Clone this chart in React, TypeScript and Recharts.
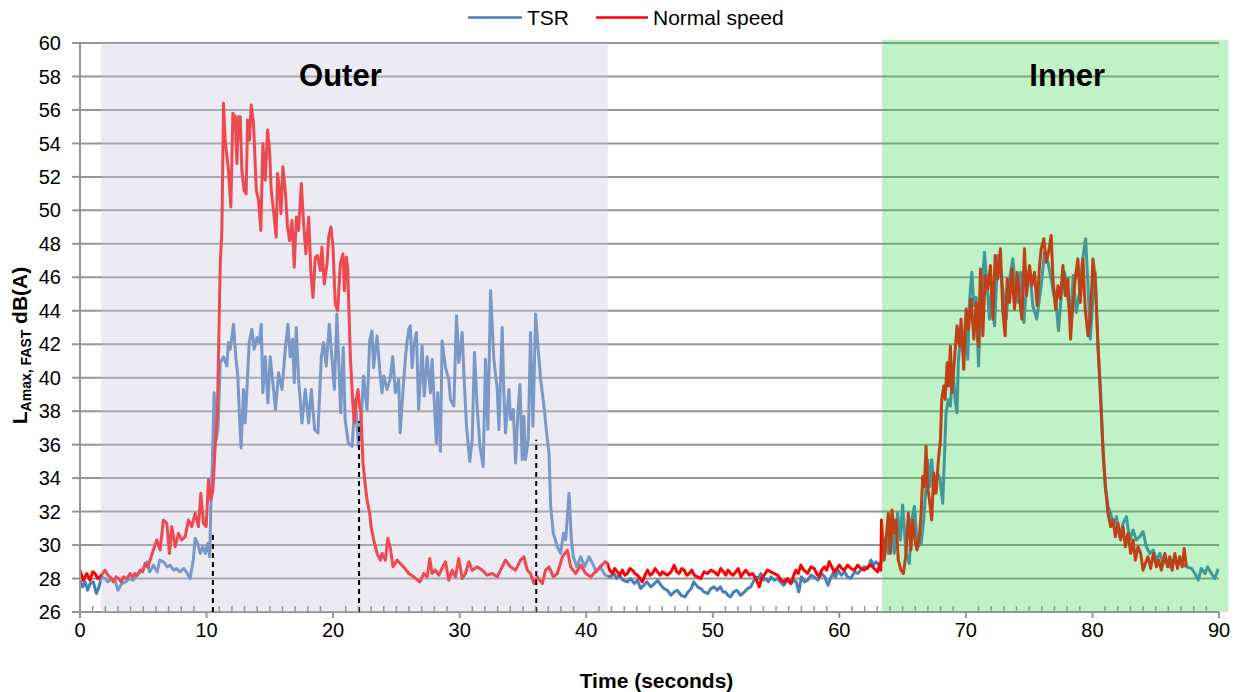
import { CartesianGrid, Line, LineChart, ReferenceArea, ReferenceLine, XAxis, YAxis } from 'recharts';

type Sample = [number, number]; // [time (s), LAmax,FAST dB(A)]

// TSR pass
const tsrRise: Sample[] = [
  [0, 27.9], [0.2, 27.5], [0.4, 27.8], [0.6, 27.3], [0.8, 27.7], [1.05, 27.8], [1.3, 27.1], [1.5, 27.5],
  [1.7, 28.1], [2.0, 28.0], [2.2, 27.8], [2.5, 28.0], [2.8, 27.8], [3.0, 27.3], [3.3, 27.7], [3.6, 27.8],
  [3.9, 28.0], [4.2, 27.9], [4.6, 28.3], [5.0, 28.6], [5.3, 29.0], [5.5, 28.4], [5.8, 28.8], [6.1, 28.4],
  [6.3, 29.1], [6.6, 29.0], [6.9, 28.7], [7.1, 28.8], [7.4, 28.5], [7.6, 28.6], [7.9, 28.4], [8.2, 28.6],
  [8.4, 28.4], [8.7, 28.0], [8.95, 29.1], [9.1, 30.4], [9.3, 30.1], [9.5, 29.5], [9.7, 29.9], [9.9, 29.5],
  [10.1, 30.1], [10.25, 29.3], [10.35, 32.7], [10.45, 34.7], [10.6, 39.1], [10.75, 36.3], [10.9, 36.9],
  [11.08, 40.9],
];
const tsrOuter: Sample[] = [
  [11.34, 41.25], [11.6, 40.7], [11.73, 42.1], [11.87, 41.7], [12.0, 42.4], [12.13, 43.2], [12.31, 41.25],
  [12.47, 40.1], [12.6, 37.7], [12.73, 35.8], [12.92, 39.3], [13.05, 37.3], [13.19, 39.3], [13.37, 42.1],
  [13.58, 42.9], [13.76, 41.7], [13.98, 42.4], [14.16, 42.1], [14.32, 43.2], [14.45, 39.1], [14.64, 41.25],
  [14.85, 38.5], [15.03, 41.25], [15.24, 39.7], [15.45, 38.1], [15.69, 40.3], [15.96, 39.3], [16.22, 41.7],
  [16.43, 43.2], [16.61, 41.25], [16.8, 42.3], [16.93, 39.7], [17.09, 43.0], [17.27, 39.9], [17.54, 37.3],
  [17.8, 39.3], [18.07, 37.3], [18.28, 39.3], [18.54, 36.9], [18.8, 36.7], [19.07, 41.25], [19.25, 42.1],
  [19.46, 40.7], [19.7, 43.2], [19.92, 41.0], [20.1, 39.3], [20.3, 43.8], [20.5, 39.9], [20.6, 37.9],
  [20.8, 41.8], [20.95, 37.5], [21.2, 36.1], [21.5, 35.9], [21.75, 38.7], [22.0, 35.9], [22.28, 38.3],
  [22.4, 40.1], [22.68, 38.1], [22.89, 42.2], [23.07, 42.8], [23.2, 40.6], [23.47, 42.5], [23.73, 40.1],
  [23.86, 39.1], [24.0, 40.1], [24.26, 39.3], [24.5, 39.9], [24.71, 41.25], [24.92, 39.1], [25.18, 39.9],
  [25.3, 36.7], [25.58, 39.9], [25.8, 41.9], [25.98, 42.9], [26.1, 43.1], [26.24, 40.6], [26.37, 41.9],
  [26.58, 42.7], [26.76, 38.1], [27.03, 41.9], [27.2, 38.9], [27.43, 41.25], [27.69, 39.1], [27.82, 41.1],
  [28.16, 36.1], [28.27, 39.1], [28.48, 35.6], [28.61, 42.2], [28.88, 40.6], [29.14, 39.9], [29.27, 38.7],
  [29.54, 38.3], [29.75, 43.7], [29.93, 40.9], [30.2, 42.7], [30.33, 40.3], [30.54, 37.1], [30.8, 35.0],
  [30.99, 36.3], [31.17, 41.5], [31.38, 38.3], [31.6, 35.9], [31.86, 34.7], [32.04, 41.1], [32.23, 36.9],
  [32.44, 45.2], [32.7, 41.1], [32.97, 39.3], [33.1, 36.9], [33.36, 43.0], [33.5, 38.9], [33.62, 36.7],
  [33.89, 39.3], [34.02, 37.5], [34.23, 38.1], [34.42, 34.9], [34.6, 37.9], [34.76, 39.6], [34.94, 35.1],
  [35.08, 37.7], [35.2, 35.1], [35.42, 36.3], [35.6, 42.7], [35.79, 37.1], [36.0, 43.8], [36.18, 41.9],
  [36.4, 39.9], [36.66, 38.3], [36.87, 36.7], [37.06, 35.5], [37.19, 32.3], [37.4, 30.7], [37.72, 29.9],
  [37.98, 29.5], [38.2, 30.7], [38.38, 30.3], [38.64, 33.1], [38.83, 30.3], [38.98, 29.3], [39.25, 28.7],
  [39.56, 29.3], [39.88, 28.7], [40.22, 29.3], [40.5, 28.9], [40.8, 28.4], [41.1, 28.7], [41.5, 28.2],
];
const tsrQuiet: Sample[] = [
  [41.9, 28.1], [42.2, 28.3], [42.4, 28.0], [42.6, 28.2], [42.9, 27.9], [43.25, 27.8], [43.5, 28.0],
  [43.8, 27.7], [44.05, 27.9], [44.3, 27.4], [44.55, 27.6], [44.8, 27.8], [45.1, 27.5], [45.4, 27.7],
  [45.65, 27.9], [45.9, 27.6], [46.15, 27.4], [46.4, 27.3], [46.7, 27.0], [46.95, 27.2], [47.2, 27.3],
  [47.5, 27.0], [47.8, 26.9], [48.05, 27.2], [48.3, 27.4], [48.5, 27.8], [48.8, 27.5], [49.05, 27.4],
  [49.3, 27.2], [49.6, 27.1], [49.85, 27.4], [50.1, 27.5], [50.35, 27.3], [50.6, 27.5], [50.8, 27.2],
  [51.0, 27.2], [51.2, 27.0], [51.4, 26.9], [51.65, 27.2], [51.9, 27.3], [52.2, 27.0], [52.5, 27.2],
  [52.75, 27.4], [53.0, 27.5], [53.2, 27.8], [53.4, 28.1], [53.6, 28.0], [53.8, 28.3], [54.0, 27.9],
  [54.2, 28.0], [54.4, 27.8], [54.6, 28.1], [54.85, 27.9], [55.1, 28.0], [55.35, 27.8], [55.6, 27.6],
  [55.9, 27.9], [56.2, 27.7], [56.4, 27.9], [56.6, 27.8], [56.8, 27.2], [57.0, 28.1], [57.25, 27.8],
  [57.5, 27.9], [57.75, 28.2], [58.0, 28.1], [58.3, 27.9], [58.6, 28.3], [58.85, 28.1], [59.1, 27.6],
  [59.3, 28.0], [59.5, 28.3], [59.7, 28.1], [59.9, 28.5], [60.15, 28.2], [60.4, 28.4], [60.65, 28.1],
  [60.9, 28.0], [61.2, 28.4], [61.45, 28.3], [61.7, 28.5], [61.97, 28.7], [62.25, 28.6], [62.5, 29.1],
  [62.7, 28.8], [62.9, 29.0], [63.15, 28.8],
];
const tsrInner: Sample[] = [
  [63.42, 29.1], [63.69, 30.5], [63.87, 29.5], [64.08, 31.5], [64.34, 29.5], [64.61, 31.9], [64.82, 30.3],
  [65.0, 32.4], [65.27, 29.5], [65.53, 28.9], [65.72, 31.5], [65.93, 32.3], [66.19, 29.9], [66.46, 30.1],
  [66.67, 31.5], [66.85, 33.5], [66.98, 35.1], [67.17, 33.5], [67.3, 35.1], [67.51, 33.1], [67.77, 34.3],
  [67.96, 33.9], [68.17, 32.5], [68.3, 35.1], [68.43, 37.9], [68.62, 38.7], [68.78, 38.3], [68.96, 40.7],
  [69.15, 38.7], [69.3, 37.9], [69.41, 41.1], [69.62, 42.5], [69.83, 41.9], [69.97, 43.5], [70.15, 41.1],
  [70.28, 44.5], [70.47, 46.3], [70.63, 44.3], [70.81, 44.8], [71.0, 40.7], [71.12, 43.5], [71.28, 45.5],
  [71.47, 47.5], [71.68, 45.5], [71.86, 43.5], [72.05, 45.5], [72.26, 43.1], [72.52, 47.3], [72.78, 46.3],
  [73.0, 44.7], [73.18, 43.5], [73.45, 45.9], [73.71, 47.1], [73.9, 45.5], [74.1, 44.5], [74.32, 46.3],
  [74.58, 43.3], [74.79, 45.5], [75.03, 46.5], [75.29, 44.3], [75.6, 43.5], [75.95, 45.5], [76.21, 47.5],
  [76.48, 46.9], [76.74, 45.9], [76.95, 44.9], [77.14, 44.3], [77.32, 42.8], [77.53, 44.9], [77.8, 46.3],
  [78.06, 44.7], [78.27, 43.5], [78.48, 46.1], [78.72, 43.9], [78.98, 45.1], [79.2, 46.9], [79.46, 48.3],
  [79.65, 45.5], [79.83, 42.3], [80.04, 44.7], [80.22, 46.3], [80.43, 41.9], [80.65, 39.1], [80.83, 35.5],
  [81.02, 33.5], [81.23, 32.3], [81.44, 31.9], [81.68, 31.1], [81.89, 31.7], [82.15, 30.5], [82.42, 31.3],
  [82.68, 31.7], [82.95, 30.3], [83.21, 30.9], [83.47, 30.3], [83.74, 30.5], [84.0, 30.8], [84.26, 29.9],
  [84.53, 29.5], [84.8, 29.7], [85.06, 29.1], [85.33, 29.5], [85.6, 28.9], [85.85, 29.1], [86.1, 28.7],
  [86.37, 29.1], [86.64, 28.9], [87.03, 28.9], [87.43, 28.7], [87.83, 28.6], [88.1, 28.3], [88.36, 27.9],
  [88.6, 28.6], [88.9, 28.3], [89.1, 28.7], [89.4, 28.3], [89.66, 28.0], [89.9, 28.5], [90.2, 28.4],
  [90.3, 28.6],
];

// normal speed pass
const normalRise: Sample[] = [
  [0, 28.5], [0.26, 27.9], [0.53, 28.3], [0.79, 27.9], [1.0, 28.4], [1.19, 28.3], [1.4, 28.0], [1.58, 28.1],
  [1.8, 28.3], [1.98, 28.5], [2.2, 28.2], [2.37, 28.1], [2.64, 27.8], [2.85, 28.1], [3.03, 28.0], [3.25, 27.8],
  [3.43, 28.1], [3.7, 28.0], [3.96, 28.3], [4.15, 28.1], [4.35, 28.3], [4.55, 28.2], [4.75, 28.5], [4.95, 28.4],
  [5.14, 28.9], [5.35, 28.7], [5.54, 29.1], [5.8, 29.7], [6.07, 30.3], [6.33, 29.7], [6.59, 31.5], [6.86, 31.3],
  [7.07, 29.5], [7.25, 31.1], [7.52, 29.9], [7.78, 30.7], [8.04, 30.3], [8.31, 30.5], [8.57, 31.5], [8.83, 31.1],
  [9.1, 31.9], [9.36, 31.1], [9.55, 33.1], [9.76, 31.3], [9.97, 31.1], [10.15, 33.9], [10.34, 32.7],
  [10.5, 33.3], [10.68, 35.9], [10.86, 37.9], [11.08, 46.8], [11.21, 48.7], [11.34, 56.4],
];
const normalOuter: Sample[] = [
  [11.47, 54.2], [11.73, 52.4], [11.92, 50.2], [12.08, 55.8], [12.26, 55.6], [12.4, 52.8], [12.52, 55.6],
  [12.66, 55.6], [12.79, 52.4], [12.97, 51.2], [13.13, 51.0], [13.24, 55.4], [13.39, 54.2], [13.53, 56.3],
  [13.71, 55.2], [13.93, 51.2], [14.11, 50.6], [14.29, 48.8], [14.45, 54.0], [14.64, 51.8], [14.82, 54.8],
  [14.98, 53.6], [15.11, 51.2], [15.29, 50.0], [15.5, 48.4], [15.61, 52.2], [15.77, 51.2], [15.88, 49.8],
  [16.03, 52.6], [16.22, 51.2], [16.4, 49.0], [16.56, 48.2], [16.75, 49.4], [16.93, 46.6], [17.09, 49.6],
  [17.27, 48.8], [17.49, 51.6], [17.67, 49.2], [17.85, 47.4], [18.07, 49.6], [18.25, 46.2], [18.41, 44.8],
  [18.59, 47.2], [18.78, 47.3], [18.99, 46.4], [19.12, 47.8], [19.3, 45.6], [19.52, 46.8], [19.65, 48.4],
  [19.83, 49.0], [19.99, 47.8], [20.17, 44.4], [20.36, 44.0], [20.57, 46.8], [20.78, 47.4], [20.89, 45.2],
  [21.05, 47.2], [21.15, 46.6], [21.36, 41.25], [21.57, 38.3], [21.68, 37.3], [21.83, 38.7], [21.97, 39.3],
  [22.1, 38.3], [22.2, 37.9], [22.36, 34.9], [22.55, 33.5], [22.68, 32.7], [22.89, 31.9], [23.0, 31.1],
  [23.21, 30.3], [23.47, 29.5], [23.73, 29.1], [23.87, 29.5], [24.13, 29.1], [24.32, 30.4], [24.5, 29.9],
  [24.74, 28.7], [25.05, 29.1], [25.3, 28.9], [25.58, 28.7], [25.98, 28.3], [26.37, 28.1], [26.85, 27.8],
  [27.16, 28.3], [27.43, 28.1], [27.64, 29.2], [27.82, 28.3], [28.09, 28.5], [28.35, 28.2], [28.61, 28.6],
  [28.88, 29.0], [29.14, 27.9], [29.41, 28.5], [29.67, 28.1], [29.93, 29.2], [30.2, 28.0], [30.46, 28.3],
  [30.73, 29.0], [30.99, 28.5], [31.38, 28.7], [31.78, 28.5], [32.17, 28.2], [32.57, 28.3], [32.97, 28.1],
  [33.23, 28.5], [33.62, 29.1], [34.02, 28.7], [34.42, 28.5], [34.81, 29.1], [35.08, 29.3], [35.34, 28.5],
  [35.6, 28.3], [35.87, 27.7], [36.13, 28.1], [36.53, 27.7], [36.79, 28.5], [37.06, 28.7], [37.4, 28.1],
  [37.72, 28.3], [38.12, 29.3], [38.51, 29.7], [38.77, 28.7], [39.17, 28.3], [39.56, 28.8], [39.96, 28.3],
  [40.35, 28.1], [40.6, 28.3], [41.1, 28.7], [41.5, 29.0],
];
const normalQuiet: Sample[] = [
  [41.67, 28.9], [41.85, 28.5], [42.06, 28.3], [42.25, 28.6], [42.46, 28.4], [42.65, 28.2], [42.86, 28.5],
  [43.05, 28.2], [43.25, 28.3], [43.45, 28.6], [43.65, 28.5], [43.85, 28.3], [44.05, 28.2], [44.25, 28.0],
  [44.44, 27.8], [44.65, 28.2], [44.84, 28.5], [45.05, 28.2], [45.23, 28.3], [45.45, 28.6], [45.63, 28.4],
  [45.85, 28.2], [46.02, 28.4], [46.2, 28.3], [46.42, 28.2], [46.7, 28.4], [46.95, 28.8], [47.15, 28.4],
  [47.34, 28.3], [47.55, 28.6], [47.74, 28.5], [47.95, 28.2], [48.13, 28.3], [48.35, 28.5], [48.53, 28.2],
  [48.8, 28.1], [49.05, 28.0], [49.3, 28.4], [49.58, 28.3], [49.85, 28.5], [50.11, 28.4], [50.4, 28.2],
  [50.63, 28.6], [50.85, 28.4], [51.03, 28.2], [51.2, 28.5], [51.42, 28.3], [51.6, 28.2], [51.82, 28.4],
  [52.0, 28.6], [52.22, 28.1], [52.4, 28.3], [52.61, 28.5], [52.9, 28.2], [53.14, 28.3], [53.4, 28.0],
  [53.67, 27.5], [53.85, 28.0], [54.06, 28.2], [54.3, 28.5], [54.59, 28.4], [54.85, 28.3], [55.12, 28.2],
  [55.4, 27.9], [55.64, 27.8], [55.9, 28.0], [56.17, 27.7], [56.4, 28.2], [56.57, 28.5], [56.75, 28.3],
  [56.96, 28.8], [57.2, 28.5], [57.49, 28.3], [57.75, 28.7], [58.02, 28.6], [58.2, 28.3], [58.41, 28.1],
  [58.6, 28.5], [58.81, 28.7], [59.0, 28.5], [59.2, 29.0], [59.4, 28.7], [59.6, 28.4], [59.8, 28.6],
  [60.0, 28.8], [60.2, 28.6], [60.39, 28.5], [60.65, 28.8], [60.92, 28.6], [61.2, 28.5], [61.45, 28.8],
  [61.7, 28.6], [61.97, 28.5], [62.25, 28.7], [62.5, 28.8], [62.75, 28.6], [63.03, 28.4], [63.2, 28.9],
  [63.28, 28.5], [63.33, 31.5],
];
const normalInner: Sample[] = [
  [63.55, 29.1], [63.76, 30.9], [63.87, 31.9], [64.03, 29.5], [64.16, 32.1], [64.34, 30.7], [64.48, 31.5],
  [64.66, 29.1], [64.87, 28.5], [65.06, 28.3], [65.27, 29.5], [65.45, 31.9], [65.66, 29.7], [65.8, 31.5],
  [65.98, 30.3], [66.14, 29.7], [66.33, 30.5], [66.46, 31.9], [66.59, 34.1], [66.72, 33.5], [66.85, 35.9],
  [66.98, 33.5], [67.12, 32.7], [67.3, 31.5], [67.46, 34.3], [67.64, 33.1], [67.83, 35.1], [67.99, 36.3],
  [68.09, 38.7], [68.25, 39.5], [68.36, 38.7], [68.52, 40.9], [68.62, 39.5], [68.78, 41.9], [68.89, 39.1],
  [69.1, 41.1], [69.3, 43.1], [69.49, 41.9], [69.62, 43.5], [69.83, 40.5], [70.02, 44.1], [70.2, 42.9],
  [70.41, 44.7], [70.63, 42.3], [70.81, 44.5], [71.0, 41.9], [71.15, 46.5], [71.34, 42.5], [71.52, 46.1],
  [71.73, 45.3], [71.94, 46.7], [72.13, 43.5], [72.31, 47.3], [72.52, 45.9], [72.73, 47.7], [72.92, 43.9],
  [73.1, 42.5], [73.26, 45.9], [73.45, 44.5], [73.63, 46.5], [73.84, 44.1], [74.05, 46.3], [74.24, 44.7],
  [74.42, 43.5], [74.63, 47.7], [74.79, 44.9], [75.03, 46.7], [75.21, 45.5], [75.42, 46.3], [75.63, 44.3],
  [75.82, 46.7], [75.95, 47.7], [76.16, 48.3], [76.35, 46.9], [76.53, 47.5], [76.74, 48.5], [76.88, 45.9],
  [77.09, 44.1], [77.27, 45.5], [77.46, 44.7], [77.67, 46.7], [77.85, 44.9], [78.06, 45.9], [78.27, 42.3],
  [78.46, 44.5], [78.67, 46.1], [78.85, 47.1], [79.04, 44.5], [79.25, 47.1], [79.43, 44.1], [79.65, 42.5],
  [79.83, 43.5], [80.04, 47.1], [80.22, 45.9], [80.43, 42.1], [80.62, 39.1], [80.83, 35.9], [81.02, 33.5],
  [81.23, 31.9], [81.44, 31.1], [81.63, 31.5], [81.81, 30.5], [82.02, 31.3], [82.23, 30.3], [82.42, 31.1],
  [82.6, 29.9], [82.81, 30.7], [83.02, 29.5], [83.21, 30.3], [83.39, 29.1], [83.6, 29.9], [83.81, 29.5],
  [84.0, 28.5], [84.18, 28.9], [84.39, 29.3], [84.6, 28.6], [84.81, 29.5], [85.06, 28.7], [85.24, 29.1],
  [85.45, 28.5], [85.72, 29.5], [85.93, 28.7], [86.11, 29.3], [86.3, 28.5], [86.51, 29.5], [86.72, 28.6],
  [86.9, 29.3], [87.09, 28.7], [87.25, 29.8], [87.43, 28.7],
];

const xTicks = [0, 10, 20, 30, 40, 50, 60, 70, 80, 90];
const secondTicks = Array.from({ length: 91 }, (_, i) => i);
const yTicks = [26, 28, 30, 32, 34, 36, 38, 40, 42, 44, 46, 48, 50, 52, 54, 56, 58, 60];

// approach zones [start, end, top] and event markers [time, top]
const outerZone = [1.66, 41.7, 60];
const innerZone = [63.37, 90.75, 60.2];
const cues: Sample[] = [[10.5, 30.8], [22.05, 37.4], [36.05, 36.3]];

const toRows = (pairs: Sample[]) => pairs.map(([t, db]) => ({ t, db }));
const tsrData = toRows([...tsrRise, ...tsrOuter, ...tsrQuiet, ...tsrInner]);
const normalData = toRows([...normalRise, ...normalOuter, ...normalQuiet, ...normalInner]);

const GREY = '#969696';
const FONT = '"Liberation Sans", Arial, Helvetica, sans-serif';

const TimeTick = (props: any) => {
  const { x, y, payload } = props;
  const major = xTicks.includes(payload.value);
  const axisY = y - 11; // tickSize 6 + tickMargin 5
  return (
    <g>
      <line
        x1={x}
        x2={x}
        y1={axisY}
        y2={major ? axisY + 6 : axisY - 6}
        stroke={GREY}
        strokeWidth={major ? 2 : 1.5}
      />
      {major && (
        <text x={x} y={y} dy="0.71em" textAnchor="middle" fontSize={20} fill="#000">
          {payload.value}
        </text>
      )}
    </g>
  );
};

const LevelLabel = (props: any) => {
  const { viewBox } = props;
  const cx = viewBox.x + 27;
  const cy = viewBox.y + viewBox.height / 2 + 18;
  return (
    <text
      x={cx}
      y={cy}
      transform={`rotate(-90 ${cx} ${cy})`}
      textAnchor="middle"
      fontSize={21}
      fontWeight="bold"
      fill="#000"
    >
      L
      <tspan fontSize={14} dy={4}>
        Amax, FAST
      </tspan>
      <tspan dy={-4}> dB(A)</tspan>
    </text>
  );
};

export default function App() {
  return (
    <div
      style={{
        position: 'absolute',
        left: 0,
        top: 0,
        width: 1239,
        height: 692,
        background: '#fff',
        fontFamily: FONT,
      }}
    >
      <LineChart width={1239} height={692} margin={{ top: 43, right: 20, bottom: 0, left: 0 }}>
        <CartesianGrid vertical={false} stroke={GREY} strokeWidth={2} />
        <XAxis
          dataKey="t"
          type="number"
          domain={[0, 90]}
          allowDataOverflow
          ticks={secondTicks}
          interval={0}
          height={80}
          tickSize={6}
          tickMargin={5}
          tickLine={false}
          axisLine={{ stroke: GREY, strokeWidth: 2 }}
          tick={<TimeTick />}
          label={{
            value: 'Time (seconds)',
            position: 'insideBottom',
            offset: 4,
            dx: 7,
            fontSize: 21,
            fontWeight: 'bold',
            fill: '#000',
          }}
        />
        <YAxis
          type="number"
          domain={[26, 60]}
          ticks={yTicks}
          interval={0}
          width={80}
          tickSize={8}
          tickMargin={11}
          tickLine={{ stroke: GREY, strokeWidth: 2 }}
          axisLine={{ stroke: GREY, strokeWidth: 2 }}
          tick={{ fontSize: 20, fill: '#000' }}
          label={<LevelLabel />}
        />
        <Line
          data={tsrData}
          dataKey="db"
          name="TSR"
          stroke="#4A7EBB"
          strokeWidth={3}
          strokeLinejoin="round"
          dot={false}
          activeDot={false}
          isAnimationActive={false}
        />
        <Line
          data={normalData}
          dataKey="db"
          name="Normal speed"
          stroke="#FF0000"
          strokeWidth={3}
          strokeLinejoin="round"
          dot={false}
          activeDot={false}
          isAnimationActive={false}
        />
        <ReferenceArea
          x1={outerZone[0]}
          x2={outerZone[1]}
          y1={26}
          y2={outerZone[2]}
          ifOverflow="visible"
          fill="rgb(204,198,220)"
          fillOpacity={0.37}
          stroke="none"
          zIndex={600}
          label={{
            value: 'Outer',
            position: 'insideTop',
            offset: 21,
            dx: -14,
            fontSize: 31,
            fontWeight: 'bold',
            fill: '#000',
          }}
        />
        <ReferenceArea
          x1={innerZone[0]}
          x2={innerZone[1]}
          y1={26}
          y2={innerZone[2]}
          ifOverflow="visible"
          fill="rgb(45,213,72)"
          fillOpacity={0.3}
          stroke="none"
          zIndex={600}
          label={{
            value: 'Inner',
            position: 'insideTop',
            offset: 24,
            dx: 12,
            fontSize: 31,
            fontWeight: 'bold',
            fill: '#000',
          }}
        />
        {cues.map(([t, top]) => (
          <ReferenceLine
            key={t}
            segment={[
              { x: t, y: 26 },
              { x: t, y: top },
            ]}
            stroke="#000"
            strokeWidth={2}
            strokeDasharray="5 4"
            zIndex={700}
          />
        ))}
      </LineChart>
      <svg
        width={1239}
        height={40}
        style={{ position: 'absolute', left: 0, top: 0, pointerEvents: 'none' }}
        fontFamily={FONT}
      >
        <line x1={468} x2={522} y1={17.5} y2={17.5} stroke="#4A7EBB" strokeWidth={2.5} />
        <text x={527} y={25} fontSize={21} fill="#000">
          TSR
        </text>
        <line x1={596} x2={648} y1={17.5} y2={17.5} stroke="#FF0000" strokeWidth={2.5} />
        <text x={653} y={25} fontSize={21} fill="#000">
          Normal speed
        </text>
      </svg>
    </div>
  );
}
